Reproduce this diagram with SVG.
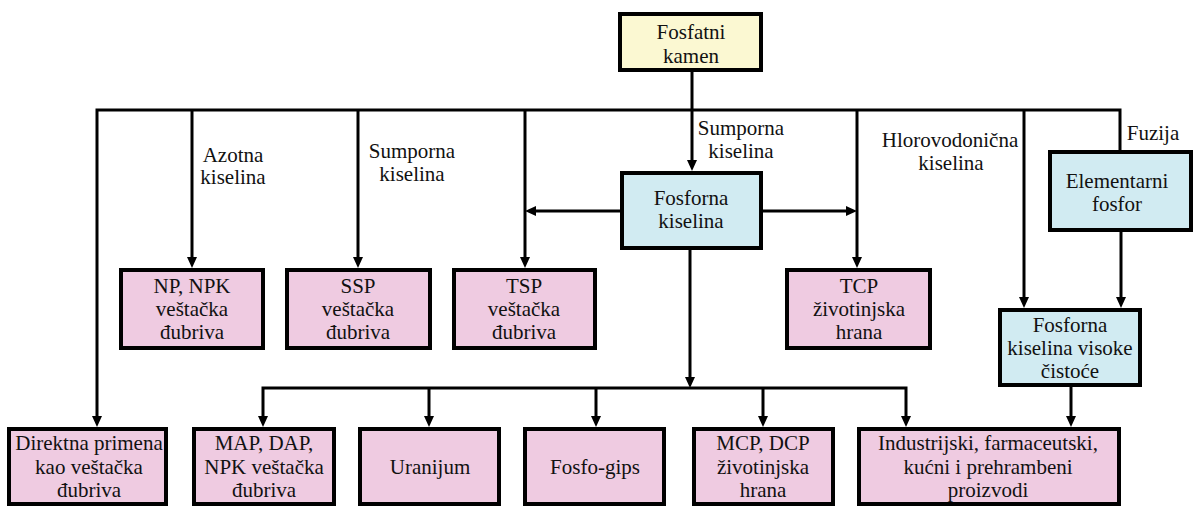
<svg xmlns="http://www.w3.org/2000/svg" width="1194" height="508" viewBox="0 0 1194 508">
<style>
.box{stroke:#000;stroke-width:4}
.pink{fill:#efcbe1}
.blue{fill:#d1ebf2}
.yellow{fill:#fbf8d2}
.c{fill:none;stroke:#000;stroke-width:3}
</style>
<defs>
<marker id="ah" markerUnits="userSpaceOnUse" markerWidth="11" markerHeight="10" refX="5" refY="5" orient="auto-start-reverse">
<path d="M0,0 L11,5 L0,10 z" fill="#000"/>
</marker>
</defs>
<rect width="1194" height="508" fill="#fff"/>
<g id="connectors">
<path class="c" d="M97,421 V110 H1120 V150" marker-start="url(#ah)"/>
<path class="c" d="M692,72 V165" marker-end="url(#ah)"/>
<path class="c" d="M192,110 V262" marker-end="url(#ah)"/>
<path class="c" d="M358,110 V262" marker-end="url(#ah)"/>
<path class="c" d="M525,110 V262" marker-end="url(#ah)"/>
<path class="c" d="M857,110 V262" marker-end="url(#ah)"/>
<path class="c" d="M1024,110 V302" marker-end="url(#ah)"/>
<path class="c" d="M1121,232 V302" marker-end="url(#ah)"/>
<path class="c" d="M620,211 H531" marker-end="url(#ah)"/>
<path class="c" d="M763,211 H851" marker-end="url(#ah)"/>
<path class="c" d="M690,250 V382" marker-end="url(#ah)"/>
<path class="c" d="M263,421 V388 H906 V421" marker-start="url(#ah)" marker-end="url(#ah)"/>
<path class="c" d="M429,388 V421" marker-end="url(#ah)"/>
<path class="c" d="M596,388 V421" marker-end="url(#ah)"/>
<path class="c" d="M763,388 V421" marker-end="url(#ah)"/>
<path class="c" d="M1071,387 V421" marker-end="url(#ah)"/>
<text font-family="Liberation Serif, serif" font-size="21" fill="#111" x="233" y="162" text-anchor="middle">Azotna</text>
<text font-family="Liberation Serif, serif" font-size="21" fill="#111" x="233" y="184" text-anchor="middle">kiselina</text>
<text font-family="Liberation Serif, serif" font-size="21" fill="#111" x="412" y="158" text-anchor="middle">Sumporna</text>
<text font-family="Liberation Serif, serif" font-size="21" fill="#111" x="412" y="181" text-anchor="middle">kiselina</text>
<text font-family="Liberation Serif, serif" font-size="21" fill="#111" x="741" y="135" text-anchor="middle">Sumporna</text>
<text font-family="Liberation Serif, serif" font-size="21" fill="#111" x="741" y="158" text-anchor="middle">kiselina</text>
<text font-family="Liberation Serif, serif" font-size="21" fill="#111" x="950" y="147" text-anchor="middle">Hlorovodonična</text>
<text font-family="Liberation Serif, serif" font-size="21" fill="#111" x="951" y="170" text-anchor="middle">kiselina</text>
<text font-family="Liberation Serif, serif" font-size="21" fill="#111" x="1153" y="140" text-anchor="middle">Fuzija</text>
</g>
<g id="fosfatni-kamen">
<rect class="box yellow" x="620" y="14" width="141" height="56"/>
<text font-family="Liberation Serif, serif" font-size="21" fill="#111" x="691" y="39" text-anchor="middle">Fosfatni</text>
<text font-family="Liberation Serif, serif" font-size="21" fill="#111" x="691" y="63" text-anchor="middle">kamen</text>
</g>
<g id="fosforna-kiselina">
<rect class="box blue" x="622" y="173" width="139" height="75"/>
<text font-family="Liberation Serif, serif" font-size="21" fill="#111" x="691" y="205" text-anchor="middle">Fosforna</text>
<text font-family="Liberation Serif, serif" font-size="21" fill="#111" x="691" y="228" text-anchor="middle">kiselina</text>
</g>
<g id="elementarni-fosfor">
<rect class="box blue" x="1050" y="152" width="141" height="78"/>
<text font-family="Liberation Serif, serif" font-size="21" fill="#111" x="1117" y="188" text-anchor="middle">Elementarni</text>
<text font-family="Liberation Serif, serif" font-size="21" fill="#111" x="1117" y="211" text-anchor="middle">fosfor</text>
</g>
<g id="fk-visoke-cistoce">
<rect class="box blue" x="1000" y="310" width="140" height="75"/>
<text font-family="Liberation Serif, serif" font-size="21" fill="#111" x="1070" y="332" text-anchor="middle">Fosforna</text>
<text font-family="Liberation Serif, serif" font-size="21" fill="#111" x="1070" y="355" text-anchor="middle">kiselina visoke</text>
<text font-family="Liberation Serif, serif" font-size="21" fill="#111" x="1070" y="378" text-anchor="middle">čistoće</text>
</g>
<g id="np-npk">
<rect class="box pink" x="121" y="270" width="142" height="78"/>
<text font-family="Liberation Serif, serif" font-size="21" fill="#111" x="192" y="293" text-anchor="middle">NP, NPK</text>
<text font-family="Liberation Serif, serif" font-size="21" fill="#111" x="192" y="316" text-anchor="middle">veštačka</text>
<text font-family="Liberation Serif, serif" font-size="21" fill="#111" x="192" y="339" text-anchor="middle">đubriva</text>
</g>
<g id="ssp">
<rect class="box pink" x="287" y="270" width="143" height="78"/>
<text font-family="Liberation Serif, serif" font-size="21" fill="#111" x="358" y="293" text-anchor="middle">SSP</text>
<text font-family="Liberation Serif, serif" font-size="21" fill="#111" x="358" y="316" text-anchor="middle">veštačka</text>
<text font-family="Liberation Serif, serif" font-size="21" fill="#111" x="358" y="339" text-anchor="middle">đubriva</text>
</g>
<g id="tsp">
<rect class="box pink" x="454" y="270" width="141" height="78"/>
<text font-family="Liberation Serif, serif" font-size="21" fill="#111" x="524" y="293" text-anchor="middle">TSP</text>
<text font-family="Liberation Serif, serif" font-size="21" fill="#111" x="524" y="316" text-anchor="middle">veštačka</text>
<text font-family="Liberation Serif, serif" font-size="21" fill="#111" x="524" y="339" text-anchor="middle">đubriva</text>
</g>
<g id="tcp">
<rect class="box pink" x="787" y="270" width="143" height="78"/>
<text font-family="Liberation Serif, serif" font-size="21" fill="#111" x="859" y="293" text-anchor="middle">TCP</text>
<text font-family="Liberation Serif, serif" font-size="21" fill="#111" x="859" y="316" text-anchor="middle">životinjska</text>
<text font-family="Liberation Serif, serif" font-size="21" fill="#111" x="859" y="339" text-anchor="middle">hrana</text>
</g>
<g id="direktna">
<rect class="box pink" x="9" y="429" width="157" height="75"/>
<text font-family="Liberation Serif, serif" font-size="21" fill="#111" x="89" y="450" text-anchor="middle">Direktna primena</text>
<text font-family="Liberation Serif, serif" font-size="21" fill="#111" x="89" y="474" text-anchor="middle">kao veštačka</text>
<text font-family="Liberation Serif, serif" font-size="21" fill="#111" x="89" y="497" text-anchor="middle">đubriva</text>
</g>
<g id="map-dap">
<rect class="box pink" x="194" y="429" width="140" height="75"/>
<text font-family="Liberation Serif, serif" font-size="21" fill="#111" x="264" y="450" text-anchor="middle">MAP, DAP,</text>
<text font-family="Liberation Serif, serif" font-size="21" fill="#111" x="264" y="474" text-anchor="middle">NPK veštačka</text>
<text font-family="Liberation Serif, serif" font-size="21" fill="#111" x="264" y="497" text-anchor="middle">đubriva</text>
</g>
<g id="uranijum">
<rect class="box pink" x="360" y="429" width="139" height="75"/>
<text font-family="Liberation Serif, serif" font-size="21" fill="#111" x="430" y="474" text-anchor="middle">Uranijum</text>
</g>
<g id="fosfo-gips">
<rect class="box pink" x="525" y="429" width="139" height="75"/>
<text font-family="Liberation Serif, serif" font-size="21" fill="#111" x="595" y="474" text-anchor="middle">Fosfo-gips</text>
</g>
<g id="mcp-dcp">
<rect class="box pink" x="694" y="429" width="139" height="75"/>
<text font-family="Liberation Serif, serif" font-size="21" fill="#111" x="763" y="450" text-anchor="middle">MCP, DCP</text>
<text font-family="Liberation Serif, serif" font-size="21" fill="#111" x="763" y="474" text-anchor="middle">životinjska</text>
<text font-family="Liberation Serif, serif" font-size="21" fill="#111" x="763" y="497" text-anchor="middle">hrana</text>
</g>
<g id="industrijski">
<rect class="box pink" x="859" y="429" width="260" height="75"/>
<text font-family="Liberation Serif, serif" font-size="21" fill="#111" x="988" y="450" text-anchor="middle">Industrijski, farmaceutski,</text>
<text font-family="Liberation Serif, serif" font-size="21" fill="#111" x="988" y="474" text-anchor="middle">kućni i prehrambeni</text>
<text font-family="Liberation Serif, serif" font-size="21" fill="#111" x="988" y="497" text-anchor="middle">proizvodi</text>
</g>
</svg>
